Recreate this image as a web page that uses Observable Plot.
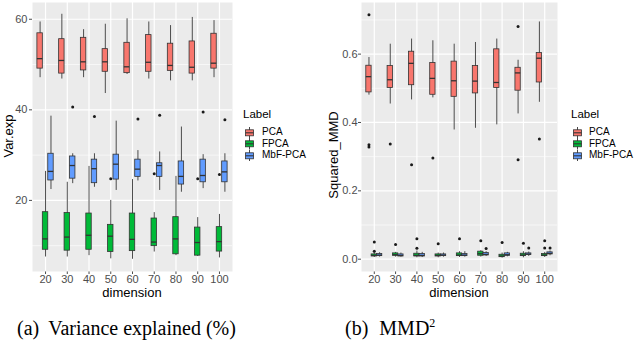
<!DOCTYPE html>
<html><head><meta charset="utf-8">
<script src="https://cdn.jsdelivr.net/npm/d3@7"></script>
<script src="https://cdn.jsdelivr.net/npm/@observablehq/plot@0.6"></script>
<style>
body{margin:0;background:#fff;}
#wrap{position:relative;width:640px;height:347px;overflow:hidden;font-family:"Liberation Sans",Arial,sans-serif;}
.abs{position:absolute;white-space:nowrap;}
.ttl{font-size:13px;color:#000;}
.leg{font-size:10px;color:#000;}
.cap{font-family:"Liberation Serif","Times New Roman",serif;font-size:20px;color:#000;}
</style></head><body><div id="wrap"></div>
<script>
const dimensions = ["20","30","40","50","60","70","80","90","100"];
const labels = ["PCA","FPCA","MbF-PCA"];
const colors = ["#F8766D","#00BA38","#619CFF"];

// Panel (a): Var.exp — each box: [lower whisker, Q1, median, Q3, upper whisker]
const varPCA = [[47.1,49.1,51.3,56.9,59.4],[46.8,48.0,50.9,55.6,61.1],[47.1,48.7,50.6,55.9,57.7],[43.6,48.4,50.6,53.4,58.9],[47.8,48.1,49.5,54.8,60.1],[46.8,48.4,50.5,56.5,59.4],[46.4,48.6,49.8,54.6,58.6],[46.4,48.0,49.4,55.1,60.4],[47.1,49.1,50.3,56.8,59.7]];
const varFPCA = [[7.5,9.1,11.5,17.4,26.4],[7.5,8.9,11.9,17.2,24.0],[7.8,9.1,12.3,17.1,27.5],[7.1,8.6,12.1,14.6,20.0],[7.0,8.8,11.4,17.1,24.6],[8.6,9.9,10.8,16.0,17.3],[7.8,8.1,11.5,16.3,25.3],[7.6,7.8,10.7,14.0,16.2],[7.3,8.7,10.9,14.1,16.9]];
const varMbF = [[22.4,24.4,26.4,30.3,38.6],[23.7,24.8,27.7,29.7,30.3],[22.9,23.8,27.0,29.0,30.3],[22.2,24.6,28.0,30.1,37.5],[24.3,25.2,26.9,29.0,31.0],[22.2,25.2,27.7,28.2,30.7],[21.8,23.5,25.3,28.6,36.2],[22.6,24.0,25.5,29.0,30.1],[21.8,24.0,26.3,28.6,30.3]];
const varPCAOut = [[],[],[],[],[],[],[],[],[]];
const varFPCAOut = [[],[],[],[24.8],[],[25.9],[],[24.8],[25.7]];
const varMbFOut = [[],[40.6],[38.5],[],[38.0],[38.8],[],[39.5],[37.8]];

// Panel (b): Squared_MMD
const mmdPCA = [[0.480,0.488,0.534,0.566,0.590],[0.454,0.501,0.525,0.565,0.629],[0.466,0.509,0.573,0.607,0.644],[0.472,0.481,0.529,0.574,0.639],[0.378,0.475,0.522,0.578,0.629],[0.383,0.485,0.521,0.565,0.634],[0.393,0.501,0.517,0.614,0.644],[0.425,0.493,0.545,0.560,0.582],[0.459,0.517,0.588,0.603,0.694]];
const mmdFPCA = [[0.005,0.008,0.011,0.014,0.019],[0.006,0.010,0.013,0.017,0.020],[0.004,0.008,0.011,0.016,0.024],[0.004,0.008,0.011,0.014,0.018],[0.005,0.009,0.012,0.017,0.022],[0.006,0.010,0.016,0.022,0.025],[0.003,0.006,0.009,0.013,0.018],[0.004,0.009,0.012,0.016,0.022],[0.005,0.009,0.012,0.015,0.020]];
const mmdMbF = [[0.006,0.009,0.012,0.015,0.019],[0.006,0.008,0.011,0.014,0.018],[0.005,0.008,0.011,0.015,0.020],[0.006,0.009,0.012,0.014,0.018],[0.006,0.009,0.012,0.015,0.022],[0.008,0.011,0.014,0.018,0.022],[0.007,0.010,0.013,0.017,0.020],[0.008,0.012,0.015,0.017,0.021],[0.010,0.014,0.017,0.020,0.024]];
const mmdPCAOut = [[0.715,0.335,0.328],[0.337],[0.276],[0.296],[],[],[],[0.681,0.291],[0.352]];
const mmdFPCAOut = [[0.050,0.023],[0.043],[0.060,0.032],[0.045],[0.060],[0.054],[0.049],[0.047],[0.054,0.033]];
const mmdMbFOut = [[],[],[],[],[],[0.031],[],[0.033],[0.033]];

const varTicks = [20,40,60], varMinor = [10,30,50];
const mmdTicks = [0,0.2,0.4,0.6], mmdMinor = [0.1,0.3,0.5,0.7];

function panel({stats, outs, yDomain, yTicks, yMinor, fmt, width, marginLeft, tickPadding}) {
  const rows = [], pts = [];
  stats.forEach((series, s) => series.forEach((d, i) => rows.push({i: i + 1, label: labels[s], s, lo: d[0], q1: d[1], med: d[2], q3: d[3], hi: d[4]})));
  outs.forEach((series, s) => series.forEach((vals, i) => vals.forEach(v => pts.push({i: i + 1, s, v}))));
  const W = 0.25;
  const pos = d => d.i + (d.s - 1) * W;
  const idx = d3.range(1, dimensions.length + 1);
  return Plot.plot({
    width, height: 300,
    marginLeft, marginRight: 3, marginTop: 2, marginBottom: 29,
    style: {background: "transparent", fontFamily: "'Liberation Sans', Arial, sans-serif", fontSize: "11px", color: "#4D4D4D"},
    x: {type: "linear", domain: [0.4, dimensions.length + 0.6], ticks: idx, tickFormat: i => dimensions[i - 1], tickSize: 3, tickPadding: 1, label: null},
    y: {domain: yDomain, ticks: yTicks, tickFormat: fmt, tickSize: 3, tickPadding, label: null},
    color: {domain: labels, range: colors},
    marks: [
      Plot.frame({fill: "#EBEBEB", stroke: "none"}),
      Plot.ruleY(yMinor, {stroke: "white", strokeWidth: 0.6}),
      Plot.ruleY(yTicks, {stroke: "white", strokeWidth: 1.2}),
      Plot.ruleX(idx, {stroke: "white", strokeWidth: 1.2}),
      Plot.ruleX(rows, {x: pos, y1: "lo", y2: "hi", stroke: "#3a3a3a", strokeWidth: 0.9}),
      Plot.rectY(rows, {x1: d => pos(d) - W / 2, x2: d => pos(d) + W / 2, y1: "q1", y2: "q3", fill: "label", stroke: "#333", strokeWidth: 0.8}),
      Plot.ruleY(rows, {x1: d => pos(d) - W / 2, x2: d => pos(d) + W / 2, y: "med", stroke: "#333", strokeWidth: 1.3}),
      Plot.dot(pts, {x: pos, y: "v", r: 1.5, fill: "#1a1a1a", stroke: "none"})
    ]
  });
}

const wrap = document.getElementById("wrap");
function place(el, left, top) { el.classList.add("abs"); el.style.left = left + "px"; el.style.top = top + "px"; wrap.appendChild(el); return el; }
function text(str, cls, left, top, extra) {
  const d = document.createElement("div"); d.className = cls; d.textContent = str;
  place(d, left, top); if (extra) Object.assign(d.style, extra); return d;
}

const left = panel({stats: [varPCA, varFPCA, varMbF], outs: [varPCAOut, varFPCAOut, varMbFOut], yDomain: [4.3, 63.7], yTicks: varTicks, yMinor: varMinor, fmt: d => d, width: 235, marginLeft: 32, tickPadding: 2});
place(left, 0, 0);
const right = panel({stats: [mmdPCA, mmdFPCA, mmdMbF], outs: [mmdPCAOut, mmdFPCAOut, mmdMbFOut], yDomain: [-0.036, 0.751], yTicks: mmdTicks, yMinor: mmdMinor, fmt: d3.format(".1f"), width: 240, marginLeft: 41, tickPadding: 1});
place(right, 320, 0);

// axis titles
text("Var.exp", "ttl", 8, 136, {transform: "translate(-50%,-50%) rotate(-90deg)"});
text("dimension", "ttl", 132, 292, {transform: "translate(-50%,-50%)"});
text("Squared_MMD", "ttl", 333, 155, {transform: "translate(-50%,-50%) rotate(-90deg)"});
text("dimension", "ttl", 459, 292, {transform: "translate(-50%,-50%)"});

// legends
function legend(x, y, tx) {
  text("Label", "leg", x, y - 7, {fontSize: "11.5px"});
  labels.forEach((lab, k) => {
    const cy = y + 17.5 + k * 11.5;
    const ns = "http://www.w3.org/2000/svg";
    const svg = document.createElementNS(ns, "svg");
    svg.setAttribute("width", 11); svg.setAttribute("height", 11.5);
    svg.innerHTML = `<line x1="5.5" x2="5.5" y1="0" y2="11.5" stroke="#333" stroke-width="0.9"/>` +
      `<rect x="1.5" y="2.8" width="8" height="6" fill="${colors[k]}" stroke="#333" stroke-width="0.8"/>` +
      `<line x1="1.5" x2="9.5" y1="5.8" y2="5.8" stroke="#333" stroke-width="1.1"/>`;
    svg.style.position = "absolute"; svg.style.left = (x + 0.5) + "px"; svg.style.top = (cy - 5.75) + "px";
    wrap.appendChild(svg);
    text(lab, "leg", tx, cy - 6.5);
  });
}
legend(243, 115, 262);
legend(571, 115, 589);

// captions
const capA = text("", "cap", 17, 317);
capA.innerHTML = '(a)<span style="display:inline-block;width:9px"></span>Variance explained (%)';
const capB = text("", "cap", 345, 317);
capB.innerHTML = '(b)<span style="display:inline-block;width:11px"></span>MMD<sup style="font-size:12px;vertical-align:8px;line-height:0">2</sup>';
</script></body></html>
